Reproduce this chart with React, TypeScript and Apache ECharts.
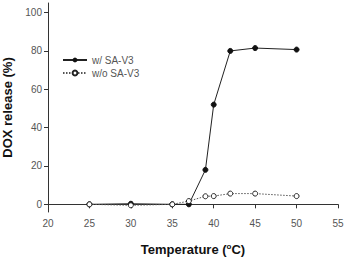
import React, { useEffect, useRef } from "react";
import * as echarts from "echarts";

const temps = [25, 30, 35, 37, 39, 40, 42, 45, 50];
const withSA = [0, 0.3, 0, 0, 18, 52, 80, 81.5, 80.7];
const withoutSA = [0, -0.5, 0, 1.7, 4.2, 4.3, 5.6, 5.6, 4.3];
const xTicks = [20, 25, 30, 35, 40, 45, 50, 55];
const yTicks = [0, 20, 40, 60, 80, 100];

export default function App() {
  const ref = useRef<HTMLDivElement>(null);
  useEffect(() => {
    const chart = echarts.init(ref.current!, undefined, { renderer: "svg" });
    const font = "Arial, 'Liberation Sans', sans-serif";
    chart.setOption({
      animation: false,
      grid: { left: 48, right: 13, top: 3, bottom: 46, outerBoundsMode: "none", containLabel: false },
      legend: {
        orient: "vertical",
        left: 57,
        top: 50,
        itemWidth: 24,
        itemHeight: 6,
        itemGap: 3,
        textStyle: { fontFamily: font, fontSize: 10, color: "#555" },
        data: ["w/ SA-V3", "w/o SA-V3"],
      },
      xAxis: {
        type: "value",
        min: 20,
        max: 55,
        interval: 5,
        name: "Temperature ({sup|o}C)",
        nameLocation: "middle",
        nameGap: 30,
        nameTextStyle: {
          fontFamily: font,
          fontSize: 13,
          fontWeight: "bold",
          color: "#111",
          rich: {
            sup: { fontSize: 8, fontWeight: "bold", verticalAlign: "top", padding: [0, 0, 6, 0], color: "#111" },
          },
        },
        axisLine: { lineStyle: { color: "#333", width: 1 } },
        axisTick: { show: true, length: 4, lineStyle: { color: "#333" } },
        axisLabel: { fontFamily: font, fontSize: 10, color: "#555", margin: 6, customValues: xTicks },
        splitLine: { show: false },
      },
      yAxis: {
        type: "value",
        min: -4,
        max: 105,
        name: "DOX release (%)",
        nameLocation: "middle",
        nameGap: 33,
        nameTextStyle: { fontFamily: font, fontSize: 13, fontWeight: "bold", color: "#111" },
        axisLine: { show: true, lineStyle: { color: "#333", width: 1 } },
        axisTick: { show: true, length: 4, lineStyle: { color: "#333" }, customValues: yTicks },
        axisLabel: { fontFamily: font, fontSize: 10, color: "#555", margin: 6, customValues: yTicks },
        splitLine: { show: false },
      },
      series: [
        {
          name: "w/ SA-V3",
          type: "line",
          data: temps.map((t, i) => [t, withSA[i]]),
          symbol: "circle",
          symbolSize: 5,
          lineStyle: { color: "#222", width: 1 },
          itemStyle: { color: "#111", borderColor: "#111" },
          z: 2,
        },
        {
          name: "w/o SA-V3",
          type: "line",
          data: temps.map((t, i) => [t, withoutSA[i]]),
          symbol: "circle",
          symbolSize: 5,
          lineStyle: { color: "#555", width: 1, type: [1.5, 1.5] },
          itemStyle: { color: "#fff", borderColor: "#222", borderWidth: 1 },
          z: 3,
        },
      ],
    });
    return () => chart.dispose();
  }, []);
  return <div ref={ref} style={{ width: 351, height: 258, position: "absolute", left: 0, top: 0, background: "#fff" }} />;
}
